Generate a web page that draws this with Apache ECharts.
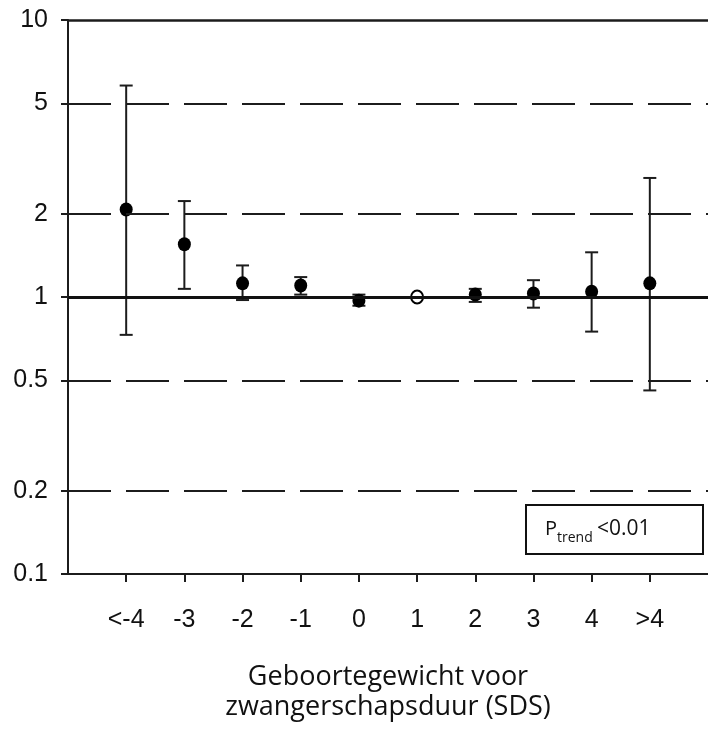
<!DOCTYPE html>
<html>
<head>
<meta charset="utf-8">
<script src="https://cdn.jsdelivr.net/npm/echarts@6/dist/echarts.min.js"></script>
<style>
html,body{margin:0;padding:0;background:#fff;}
#chart{width:708px;height:730px;}
</style>
</head>
<body>
<div id="chart"></div>
<script>
// ---- data ----
const categories = ['<-4', '-3', '-2', '-1', '0', '1', '2', '3', '4', '>4'];
const hazard = [2.07, 1.55, 1.12, 1.10, 0.97, 1.00, 1.02, 1.03, 1.045, 1.12];
const ciLower = [0.73, 1.07, 0.975, 1.02, 0.93, null, 0.96, 0.915, 0.75, 0.46];
const ciUpper = [5.8, 2.22, 1.30, 1.18, 1.02, null, 1.07, 1.15, 1.45, 2.69];
const referenceIndex = 5;
const yTickValues = [0.1, 0.2, 0.5, 1, 2, 5, 10];
const yTickLabels = ['0.1', '0.2', '0.5', '1', '2', '5', '10'];
const dashedLevels = [5, 2, 0.5, 0.2];
const trendText = { p: 'P', sub: 'trend', rest: '<0.01' };
const axisTitle = 'Geboortegewicht voor\nzwangerschapsduur (SDS)';

// ---- build ----
const catIdx = categories.map((c, i) => i);
const filled = [], open = [], bars = [];
hazard.forEach((v, i) => {
  if (i === referenceIndex) open.push([i, v]); else filled.push([i, v]);
  if (ciLower[i] != null) bars.push([i, ciLower[i], ciUpper[i]]);
});

const ink = '#1c1c1c';
const tickFont = { fontFamily: "'Liberation Sans', Arial, sans-serif", fontSize: 25, color: '#111' };

const chart = echarts.init(document.getElementById('chart'), null, { renderer: 'canvas' });
chart.setOption({
  backgroundColor: '#fff',
  animation: false,
  grid: { left: 68, top: 20, width: 642, height: 554, containLabel: false },
  xAxis: {
    type: 'value', min: -1, max: 10, interval: 1,
    axisLine: { show: true, onZero: false, lineStyle: { color: ink, width: 2 } },
    axisTick: { show: true, length: 8, lineStyle: { color: ink, width: 2 }, customValues: catIdx },
    axisLabel: Object.assign({ margin: 34, customValues: catIdx,
      formatter: v => categories[Math.round(v)] || '' }, tickFont),
    splitLine: { show: false },
    name: axisTitle, nameLocation: 'middle', nameGap: 88,
    nameTextStyle: { fontFamily: "'Open Sans', sans-serif", fontSize: 27, lineHeight: 30, color: '#111' }
  },
  yAxis: {
    type: 'log', logBase: 10, min: 0.1, max: 10,
    axisLine: { show: true, onZero: false, lineStyle: { color: ink, width: 2 } },
    axisTick: { show: true, length: 7, lineStyle: { color: ink, width: 2 }, customValues: yTickValues },
    axisLabel: Object.assign({ margin: 20, customValues: yTickValues,
      formatter: v => { const k = yTickValues.findIndex(t => Math.abs(t - v) < 1e-6 * t); return k >= 0 ? yTickLabels[k] : ''; } }, tickFont),
    splitLine: { show: false }
  },
  series: [
    {
      type: 'scatter', data: [], silent: true, z: 1,
      markLine: {
        silent: true, symbol: 'none', label: { show: false }, animation: false,
        data: [
          ...dashedLevels.map(v => ({ yAxis: v, lineStyle: { type: [43, 15], width: 2, color: ink } })),
          { yAxis: 1, lineStyle: { type: 'solid', width: 3, color: '#111' } },
          { yAxis: 10, lineStyle: { type: 'solid', width: 2.5, color: ink } }
        ]
      }
    },
    {
      type: 'custom', data: bars, z: 3, silent: true,
      renderItem: (params, api) => {
        const x = api.value(0);
        const lo = api.coord([x, api.value(1)]);
        const hi = api.coord([x, api.value(2)]);
        const cw = 6.5;
        const st = { stroke: ink, lineWidth: 2 };
        return { type: 'group', children: [
          { type: 'line', shape: { x1: lo[0], y1: lo[1], x2: hi[0], y2: hi[1] }, style: st },
          { type: 'line', shape: { x1: lo[0] - cw, y1: lo[1], x2: lo[0] + cw, y2: lo[1] }, style: st },
          { type: 'line', shape: { x1: hi[0] - cw, y1: hi[1], x2: hi[0] + cw, y2: hi[1] }, style: st }
        ] };
      }
    },
    {
      type: 'scatter', data: filled, z: 4, symbol: 'circle', symbolSize: [13, 14],
      itemStyle: { color: '#000', opacity: 1 }
    },
    {
      type: 'scatter', data: open, z: 4, symbol: 'circle', symbolSize: [12, 13],
      itemStyle: { color: '#fff', borderColor: '#000', borderWidth: 2, opacity: 1 }
    }
  ],
  graphic: [
    { type: 'rect', left: 525, top: 504, shape: { width: 177, height: 49 },
      style: { fill: '#fff', stroke: '#111', lineWidth: 2 }, z: 10 },
    { type: 'text', x: 545, y: 529, style: { text: trendText.p, font: "20px 'Open Sans', sans-serif", fill: '#111', verticalAlign: 'middle' }, z: 11 },
    { type: 'text', x: 557, y: 538, style: { text: trendText.sub, font: "14px 'Open Sans', sans-serif", fill: '#111', verticalAlign: 'middle' }, z: 11 },
    { type: 'text', x: 597, y: 529, style: { text: trendText.rest, font: "21px 'Open Sans', sans-serif", fill: '#111', verticalAlign: 'middle' }, z: 11 }
  ]
});
</script>
</body>
</html>
